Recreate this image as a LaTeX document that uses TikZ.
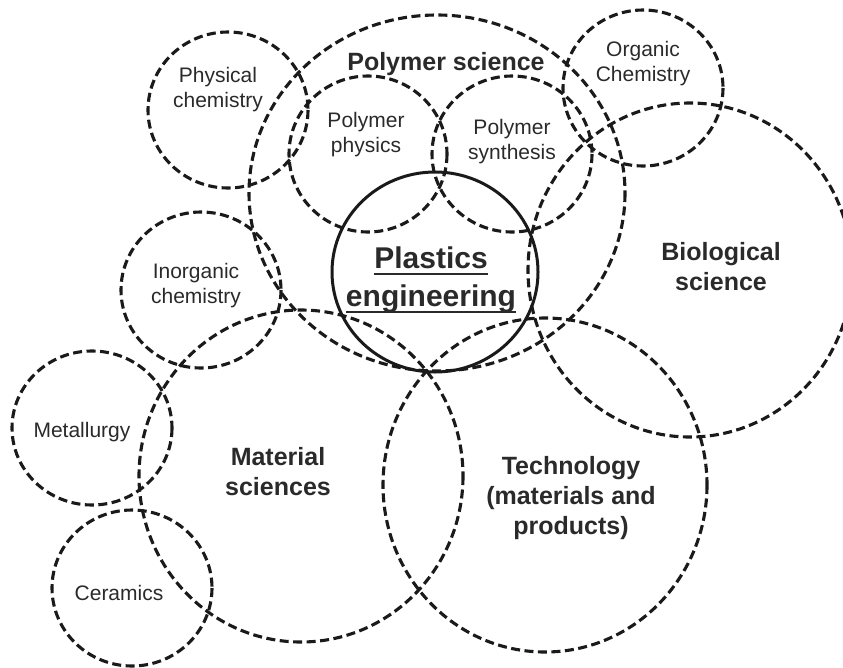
\documentclass[tikz,border=0pt]{standalone}
\usepackage{fontspec}
\setmainfont{Liberation Sans}
\newcommand\myunderline[1]{\setbox0\hbox{#1}\rlap{\rule[-6.5pt]{\wd0}{2.4pt}}\box0}
\definecolor{ink}{HTML}{1A1A1A}
\definecolor{txt}{HTML}{2A2A2A}
\tikzset{
  area/.style={draw=ink, line width=3.1pt, dash pattern=on 9pt off 4.5pt},
  core/.style={draw=ink, line width=3pt},
  smalllbl/.style={text=txt, align=center, inner sep=0pt, font=\fontsize{21}{25}\selectfont},
  biglbl/.style={text=txt, align=center, inner sep=0pt, font=\fontsize{25}{30}\selectfont\bfseries},
  corelbl/.style={text=txt, align=center, inner sep=0pt, font=\fontsize{30}{38}\selectfont\bfseries}
}
\begin{document}
\begin{tikzpicture}[x=1pt, y=-1pt]
\useasboundingbox (0,0) rectangle (843,667);
\begin{scope}
\clip (0,0) rectangle (843,667);
% circles
\draw[area] (437,193) ellipse [x radius=188, y radius=178];   % polymer science
\draw[area] (228,110) ellipse [x radius=80, y radius=78];     % physical chemistry
\draw[area] (368,154) ellipse [x radius=79, y radius=78];     % polymer physics
\draw[area] (512,154) ellipse [x radius=80, y radius=78];     % polymer synthesis
\draw[area] (643,88) ellipse [x radius=80, y radius=78];      % organic chemistry
\draw[area] (690,270) ellipse [x radius=162, y radius=167];   % biological science
\draw[area] (201,290) ellipse [x radius=80, y radius=78];     % inorganic chemistry
\draw[area] (92,428) ellipse [x radius=80, y radius=77];      % metallurgy
\draw[area] (132,588) ellipse [x radius=80, y radius=78];     % ceramics
\draw[area] (301,476) ellipse [x radius=162, y radius=166];   % material sciences
\draw[area] (545,485) ellipse [x radius=162, y radius=167];   % technology
\draw[core] (435,272) ellipse [x radius=103, y radius=100];   % plastics engineering
\end{scope}
% labels
\node[biglbl] (polsci) at (446,64) {Polymer science};
\node[smalllbl] (physchem) at (218,90) {Physical\\chemistry};
\node[smalllbl] (polphys) at (366,135) {Polymer\\physics};
\node[smalllbl] (polsyn) at (512,142) {Polymer\\synthesis};
\node[smalllbl] (orgchem) at (643,64) {Organic\\Chemistry};
\node[biglbl] (biosci) at (721,267) {Biological\\science};
\node[corelbl] (plastics) at (431,280) {\myunderline{Plastics}\\\myunderline{engineering}};
\node[smalllbl] (inorg) at (196,286) {Inorganic\\chemistry};
\node[smalllbl] (metal) at (82,432) {Metallurgy};
\node[biglbl] (matsci) at (278,472) {Material\\sciences};
\node[smalllbl] (ceram) at (119,593) {Ceramics};
\node[biglbl] (tech) at (571,498) {Technology\\(materials and\\products)};
\end{tikzpicture}
\end{document}
